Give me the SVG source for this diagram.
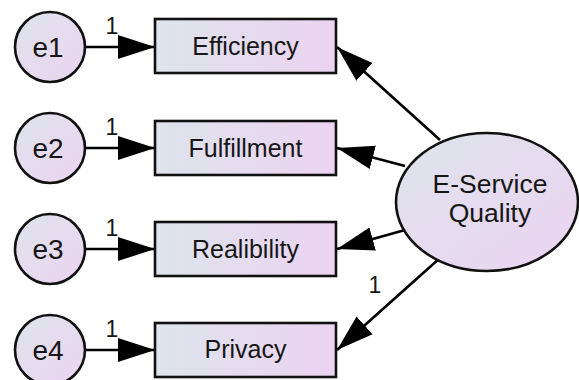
<svg xmlns="http://www.w3.org/2000/svg" width="579" height="380" viewBox="0 0 579 380">
  <defs>
    <linearGradient id="boxFill" x1="0" y1="0" x2="1" y2="0">
      <stop offset="0" stop-color="#dee4ec"/>
      <stop offset="1" stop-color="#ecd3f1"/>
    </linearGradient>
    <linearGradient id="roundFill" x1="0" y1="0" x2="1" y2="1">
      <stop offset="0" stop-color="#dee4ec"/>
      <stop offset="1" stop-color="#ecd3f1"/>
    </linearGradient>
    <marker id="head" markerUnits="userSpaceOnUse" markerWidth="38" markerHeight="26" refX="37" refY="13" orient="auto" viewBox="0 0 38 26">
      <path d="M0,1 L37,13 L0,25 Z" fill="#000"/>
    </marker>
    <style>
      .box { fill: url(#boxFill); stroke: #111; stroke-width: 2.6; }
      .round { fill: url(#roundFill); stroke: #111; stroke-width: 2.6; }
      .lbl { font-family: "Liberation Sans", Arial, sans-serif; font-size: 25px; fill: #161616; text-anchor: middle; }
      .err { font-size: 28px; }
      .big { font-size: 26.5px; }
      .one { font-family: "Liberation Sans", Arial, sans-serif; font-size: 23px; fill: #161616; text-anchor: middle; }
      .edge { stroke: #000; stroke-width: 2.6; fill: none; marker-end: url(#head); }
    </style>
  </defs>

  <g id="connectors">
    <!-- error terms to indicators -->
    <line class="edge" x1="85" y1="47" x2="155" y2="47"/>
    <line class="edge" x1="85" y1="148" x2="155" y2="148"/>
    <line class="edge" x1="85" y1="249" x2="155" y2="249"/>
    <line class="edge" x1="85" y1="350" x2="155" y2="350"/>
    <!-- latent factor to indicators -->
    <line class="edge" x1="440" y1="140" x2="337" y2="47"/>
    <line class="edge" x1="405" y1="166" x2="337" y2="148"/>
    <line class="edge" x1="405" y1="230" x2="337" y2="249"/>
    <line class="edge" x1="440" y1="258" x2="337" y2="350"/>
    <text class="one" x="112" y="34">1</text>
    <text class="one" x="112" y="135">1</text>
    <text class="one" x="112" y="236">1</text>
    <text class="one" x="112" y="337">1</text>
    <text class="one" x="375" y="293">1</text>
  </g>

  <g id="e1">
    <circle class="round" cx="50" cy="47" r="35"/>
    <text class="lbl err" x="48" y="57">e1</text>
  </g>
  <g id="e2">
    <circle class="round" cx="50" cy="148" r="35"/>
    <text class="lbl err" x="48" y="158">e2</text>
  </g>
  <g id="e3">
    <circle class="round" cx="50" cy="249" r="35"/>
    <text class="lbl err" x="48" y="259">e3</text>
  </g>
  <g id="e4">
    <circle class="round" cx="50" cy="350" r="35"/>
    <text class="lbl err" x="48" y="360">e4</text>
  </g>

  <g id="efficiency">
    <rect class="box" x="155" y="19" width="181" height="54"/>
    <text class="lbl" x="245.5" y="55">Efficiency</text>
  </g>
  <g id="fulfillment">
    <rect class="box" x="155" y="121" width="181" height="54"/>
    <text class="lbl" x="245.5" y="157">Fulfillment</text>
  </g>
  <g id="realibility">
    <rect class="box" x="155" y="222" width="181" height="54"/>
    <text class="lbl" x="245.5" y="258">Realibility</text>
  </g>
  <g id="privacy">
    <rect class="box" x="155" y="323" width="181" height="54"/>
    <text class="lbl" x="245.5" y="358">Privacy</text>
  </g>

  <g id="eservice-quality">
    <ellipse class="round" cx="487" cy="202" rx="91" ry="69"/>
    <text class="lbl big" x="490" y="193">E-Service</text>
    <text class="lbl big" x="490" y="222">Quality</text>
  </g>
</svg>
